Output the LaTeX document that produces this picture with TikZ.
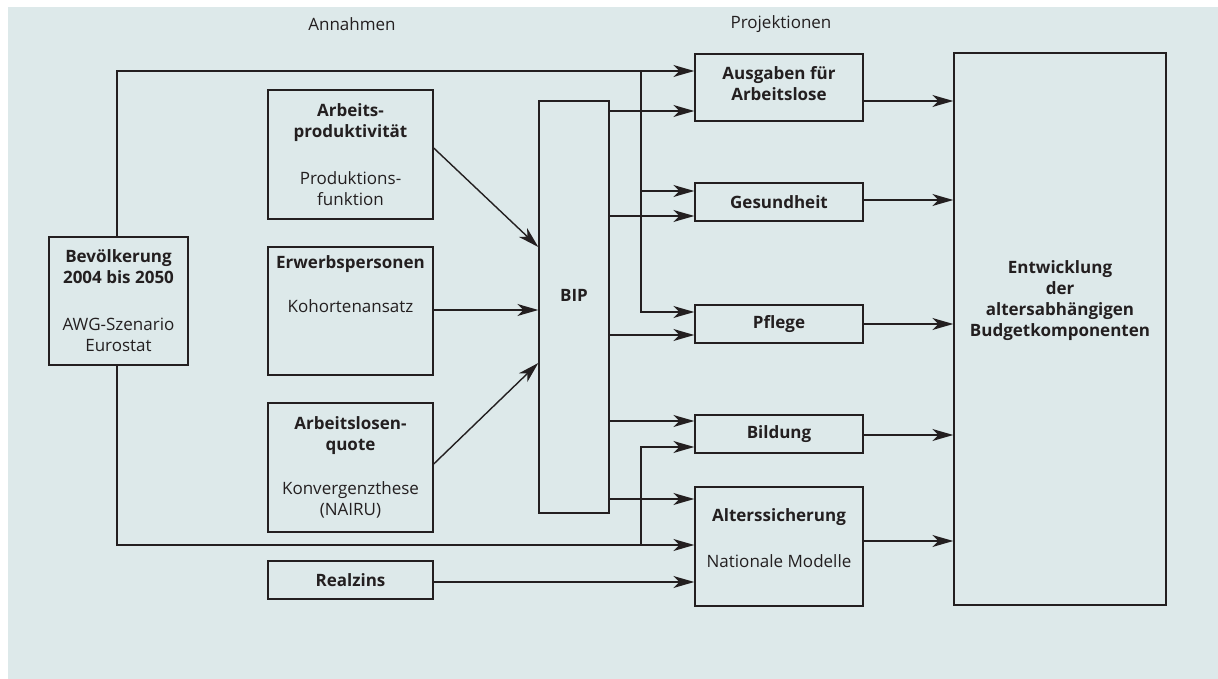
\documentclass[tikz,border=0pt]{standalone}
\usepackage{fontspec}
\setmainfont{Open Sans}
\usetikzlibrary{arrows.meta,calc}
\definecolor{bgc}{HTML}{DDE9EA}
\definecolor{ink}{HTML}{231F20}
\begin{document}
\begin{tikzpicture}[x=1pt,y=-1pt,
  box/.style={draw=ink,line width=1.4pt,fill=none,inner sep=0pt,align=center,text=ink,font=\fontsize{17}{21}\selectfont},
  txt/.style={inner sep=0pt,align=center,text=ink,font=\fontsize{17}{21}\selectfont},
  arr/.style={draw=ink,line width=1.4pt,-{Stealth[length=21pt,width=12pt,inset=6pt]}},
  ln/.style={draw=ink,line width=1.4pt}]
\useasboundingbox (0,0) rectangle (1218,679);
\fill[bgc] (8,7) rectangle (1218,679);
% headings
\node[txt] (annahmen) at (352,24) {Annahmen};
\node[txt] (projektionen) at (781,24) {Projektionen};
% left boxes
\node[box,minimum width=139pt,minimum height=128pt] (bev) at (118.5,301) {\textbf{Bevölkerung}\\\textbf{2004 bis 2050}\\[26pt]AWG-Szenario\\Eurostat};
\node[box,minimum width=165pt,minimum height=129pt] (prod) at (350.5,154.5) {\textbf{Arbeits-}\\\textbf{produktivität}\\[26pt]Produktions-\\funktion};
\node[box,minimum width=165pt,minimum height=128pt] (erw) at (350.5,311) {};
\node[txt] (erwt) at (350.5,284) {\textbf{Erwerbspersonen}\\[23pt]Kohortenansatz};
\node[box,minimum width=165pt,minimum height=129pt] (alq) at (350.5,467.5) {\textbf{Arbeitslosen-}\\\textbf{quote}\\[23pt]Konvergenzthese\\(NAIRU)};
\node[box,minimum width=165pt,minimum height=38pt] (real) at (350.5,580) {\textbf{Realzins}};
% BIP
\node[box,minimum width=70pt,minimum height=412pt] (bip) at (574,307) {};
\node[txt] (bipt) at (574,295) {\textbf{BIP}};
% projection boxes
\node[box,minimum width=168pt,minimum height=67pt] (ausg) at (779,87.5) {};
\node[txt] (ausgt) at (779,84) {\textbf{Ausgaben für}\\\textbf{Arbeitslose}};
\node[box,minimum width=168pt,minimum height=38pt] (ges) at (779,202) {\textbf{Gesundheit}};
\node[box,minimum width=168pt,minimum height=38pt] (pfl) at (779,324) {\textbf{Pflege}};
\node[box,minimum width=168pt,minimum height=38pt] (bil) at (779,434) {\textbf{Bildung}};
\node[box,minimum width=168pt,minimum height=119pt] (alt) at (779,546.5) {};
\node[txt] (altt) at (779,538.5) {\textbf{Alterssicherung}\\[25pt]Nationale Modelle};
% result box
\node[box,minimum width=212pt,minimum height=552pt] (ent) at (1060,329) {};
\node[txt] (entt) at (1060,301) {\textbf{Entwicklung}\\\textbf{der}\\\textbf{altersabhängigen}\\\textbf{Budgetkomponenten}};
% distributor column
\coordinate (xd) at (641,0);
% population lines
\draw[arr] (bev.north -| 117,0) |- (ausg.west |- 0,71);
\draw[arr] (xd |- 0,71) |- (pfl.west |- 0,312);
\draw[arr] (xd |- 0,191) -- (ges.west |- 0,191);
\draw[arr] (bev.south -| 117,0) |- (alt.west |- 0,545);
\draw[arr] (xd |- 0,545) |- (bil.west |- 0,447);
% inputs into BIP
\draw[arr] (prod.east |- 0,148) -- (bip.west |- 0,247);
\draw[arr] (erw.east |- 0,310) -- (bip.west |- 0,310);
\draw[arr] (alq.east |- 0,464) -- (bip.west |- 0,363);
\draw[arr] (real.east |- 0,582) -- (alt.west |- 0,582);
% BIP outputs
\draw[arr] (bip.east |- 0,111) -- (ausg.west |- 0,111);
\draw[arr] (bip.east |- 0,216) -- (ges.west |- 0,216);
\draw[arr] (bip.east |- 0,335) -- (pfl.west |- 0,335);
\draw[arr] (bip.east |- 0,421) -- (bil.west |- 0,421);
\draw[arr] (bip.east |- 0,499) -- (alt.west |- 0,499);
% projections into result
\draw[arr] (ausg.east |- 0,101) -- (ent.west |- 0,101);
\draw[arr] (ges.east |- 0,200) -- (ent.west |- 0,200);
\draw[arr] (pfl.east |- 0,324) -- (ent.west |- 0,324);
\draw[arr] (bil.east |- 0,435) -- (ent.west |- 0,435);
\draw[arr] (alt.east |- 0,541) -- (ent.west |- 0,541);
\end{tikzpicture}
\end{document}
